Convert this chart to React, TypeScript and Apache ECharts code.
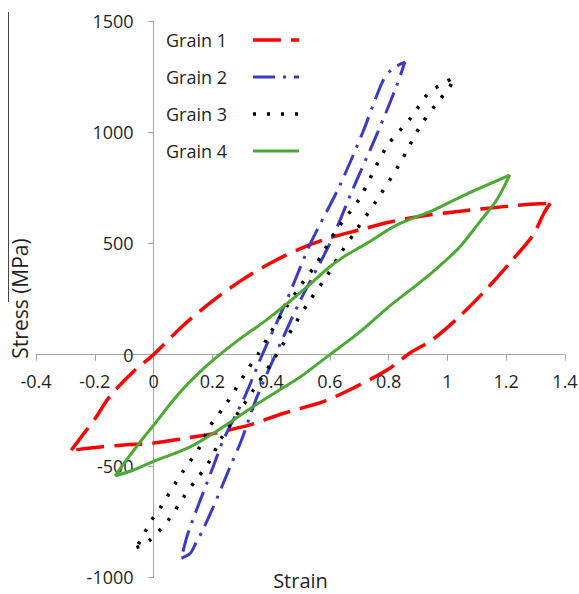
import React, { useEffect, useRef } from "react";
import * as echarts from "echarts";

const FONT = "'Open Sans', 'Noto Sans', sans-serif";
const TEXT = "#1f1f1f";
const AXIS = "#a6a6a6";

const seriesNames = ["Grain 1", "Grain 2", "Grain 3", "Grain 4"];
const seriesColors = ["#ff0000", "#3b3bc4", "#000000", "#4caa34"];

// Grain 1 (two branches of the loop)
const grain1Loading: [number, number][] = [
  [-0.28, -430], [-0.24, -360], [-0.2, -290], [-0.15, -190], [-0.07, -78], [0, 0],
  [0.1, 130], [0.2, 240], [0.3, 335], [0.4, 413], [0.5, 477], [0.6, 525], [0.7, 560],
  [0.8, 595], [0.9, 620], [1.0, 638], [1.13, 657], [1.27, 675], [1.35, 680],
];
const grain1Unloading: [number, number][] = [
  [1.35, 680], [1.33, 640], [1.29, 535], [1.22, 424], [1.13, 290], [1.04, 170], [0.95, 68],
  [0.87, 5], [0.8, -65], [0.68, -150], [0.58, -210], [0.44, -265], [0.33, -315], [0.21, -353],
  [0.1, -378], [0, -398], [-0.1, -406], [-0.18, -415], [-0.28, -430],
];

// Grain 2 (closed narrow loop)
const grain2Loop: [number, number][] = [
  [0.095, -915], [0.125, -893], [0.145, -845], [0.167, -790], [0.2, -695], [0.262, -500],
  [0.299, -385], [0.352, -190], [0.415, 0], [0.498, 240], [0.6, 500], [0.68, 750], [0.763, 1000],
  [0.826, 1205], [0.855, 1315], [0.835, 1303], [0.812, 1285], [0.78, 1230], [0.712, 1000],
  [0.63, 750], [0.534, 500], [0.455, 250], [0.37, 0], [0.31, -190], [0.237, -385], [0.204, -500],
  [0.118, -800], [0.095, -915],
];

// Grain 3 (closed loop)
const grain3Loop: [number, number][] = [
  [-0.058, -868], [-0.013, -835], [0.05, -745], [0.1, -645], [0.146, -560], [0.186, -490],
  [0.231, -375], [0.294, -250], [0.339, -161], [0.419, 0], [0.48, 135], [0.53, 240], [0.588, 350],
  [0.634, 450], [0.69, 560], [0.759, 694], [0.838, 859], [0.906, 1024], [0.963, 1129], [1.008, 1204],
  [1.022, 1245], [0.974, 1211], [0.929, 1166], [0.878, 1069], [0.793, 934], [0.7, 700], [0.622, 559],
  [0.554, 409], [0.497, 304], [0.452, 214], [0.396, 94], [0.355, 0], [0.322, -63], [0.248, -220],
  [0.19, -326], [0.157, -416], [0.095, -535], [0.021, -693], [-0.007, -745], [-0.058, -868],
];

// Grain 4 (two branches of the loop)
const grain4Loading: [number, number][] = [
  [-0.131, -545], [-0.09, -470], [-0.035, -375], [0, -318], [0.067, -205], [0.112, -138],
  [0.16, -75], [0.225, 0], [0.316, 92], [0.384, 155], [0.464, 240], [0.52, 302], [0.6, 395],
  [0.662, 452], [0.724, 499], [0.827, 582], [0.951, 649], [1.065, 722], [1.212, 807],
];
const grain4Unloading: [number, number][] = [
  [1.212, 807], [1.167, 694], [1.11, 597], [1.042, 484], [0.97, 395], [0.9, 318], [0.8, 215],
  [0.7, 100], [0.6, 0], [0.5, -100], [0.464, -130], [0.328, -243], [0.237, -325], [0.123, -416],
  [0, -480], [-0.07, -520], [-0.131, -545],
];

const lineWidths = [3.5, 3, 3.5, 3];
const lineTypes: any[] = [[28, 10], [22, 8, 3, 8], [3, 11], "solid"];

function makeSeries(idx: number, data: [number, number][]) {
  return {
    name: seriesNames[idx],
    type: "line",
    data,
    symbol: "none",
    smooth: 0.3,
    z: 2 + idx,
    lineStyle: {
      color: seriesColors[idx],
      width: lineWidths[idx],
      type: lineTypes[idx],
      cap: "butt",
    },
    itemStyle: { color: seriesColors[idx] },
    emphasis: { disabled: true },
  };
}

// plot area geometry
const GRID_LEFT = 36;
const GRID_RIGHT = 14;
const GRID_TOP = 21;
const GRID_BOTTOM = 17;
const W = 579;
const H = 594;
const X_MIN = -0.4;
const X_MAX = 1.4;
const Y_MIN = -1000;
const Y_MAX = 1500;
// pixel offsets so that the axes cross at the origin (as in the reference)
const plotW = W - GRID_LEFT - GRID_RIGHT;
const plotH = H - GRID_TOP - GRID_BOTTOM;
const yAxisOffset = -((0 - X_MIN) / (X_MAX - X_MIN)) * plotW;
const xAxisOffset = -((0 - Y_MIN) / (Y_MAX - Y_MIN)) * plotH;

export default function App() {
  const ref = useRef<HTMLDivElement>(null);
  useEffect(() => {
    if (!ref.current) return;
    const chart = echarts.init(ref.current, undefined, { renderer: "svg" });
    const option: any = {
      animation: false,
      backgroundColor: "#ffffff",
      textStyle: { fontFamily: FONT },
      grid: {
        left: GRID_LEFT,
        right: GRID_RIGHT,
        top: GRID_TOP,
        bottom: GRID_BOTTOM,
        containLabel: false,
        outerBoundsMode: "none",
      },
      legend: {
        data: seriesNames,
        orient: "vertical",
        left: 166,
        top: 31,
        align: "right",
        padding: 0,
        itemWidth: 46,
        itemHeight: 14,
        itemGap: 19,
        selectedMode: false,
        itemStyle: { opacity: 0 },
        lineStyle: { width: "inherit" },
        textStyle: { fontSize: 18, color: TEXT, fontFamily: FONT, padding: [0, 21, 0, 0] },
      },
      xAxis: {
        type: "value",
        position: "bottom",
        offset: xAxisOffset,
        min: X_MIN,
        max: X_MAX,
        interval: 0.2,
        name: "Strain",
        nameLocation: "middle",
        nameGap: 216,
        nameTextStyle: { fontSize: 20, lineHeight: 20, color: TEXT, fontFamily: FONT },
        axisLine: { onZero: false, lineStyle: { color: AXIS, width: 1 } },
        axisTick: { show: true, length: 6, lineStyle: { color: AXIS } },
        axisLabel: { fontSize: 18, color: TEXT, margin: 17, fontFamily: FONT },
        splitLine: { show: false },
      },
      yAxis: {
        type: "value",
        position: "left",
        offset: yAxisOffset,
        min: Y_MIN,
        max: Y_MAX,
        interval: 500,
        axisLine: { onZero: false, lineStyle: { color: AXIS, width: 1 } },
        axisTick: { show: true, length: 6, lineStyle: { color: AXIS } },
        axisLabel: {
          fontSize: 18,
          color: TEXT,
          margin: 20,
          fontFamily: FONT,
          formatter: (v: number) => String(v),
        },
        splitLine: { show: false },
      },
      graphic: [
        {
          type: "text",
          x: 20,
          y: 298.5,
          rotation: Math.PI / 2,
          style: {
            text: "Stress (MPa)",
            fontSize: 21,
            fontFamily: FONT,
            fill: TEXT,
            align: "center",
            verticalAlign: "middle",
          },
        },
        {
          type: "line",
          shape: { x1: 8.5, y1: 12, x2: 8.5, y2: 302 },
          style: { stroke: "#444444", lineWidth: 1 },
        },
      ],
      series: [
        makeSeries(0, grain1Loading),
        makeSeries(0, grain1Unloading),
        makeSeries(1, grain2Loop),
        makeSeries(2, grain3Loop),
        makeSeries(3, grain4Loading),
        makeSeries(3, grain4Unloading),
      ],
    };
    chart.setOption(option);
    return () => chart.dispose();
  }, []);
  return (
    <div
      ref={ref}
      style={{ position: "absolute", left: 0, top: 0, width: W, height: H }}
    />
  );
}
